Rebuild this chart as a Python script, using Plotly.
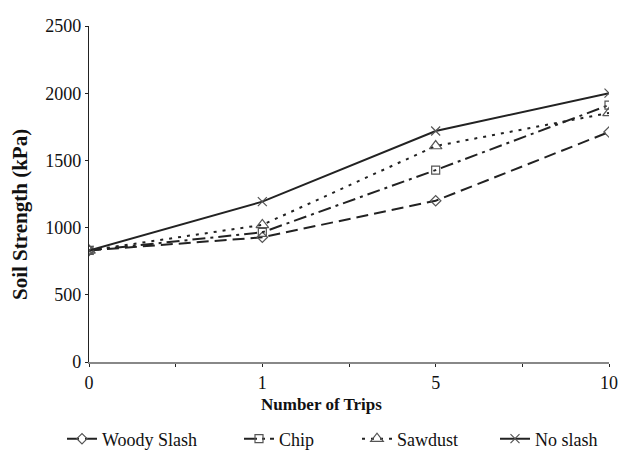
import plotly.graph_objects as go

trips = ["0", "1", "5", "10"]
woody_slash = [830, 928, 1200, 1711]
chip = [830, 965, 1428, 1912]
sawdust = [830, 1020, 1607, 1853]
no_slash = [830, 1193, 1719, 2000]

xpos = list(range(len(trips)))

SERIF = "Liberation Serif, Times New Roman, Times, serif"

series = [
    ("Woody Slash", woody_slash, "12px,6px", "diamond-open", 8, "legend", 62),
    ("Chip", chip, "13px,5px,3px,5px", "square-open", 8, "legend2", 239),
    ("Sawdust", sawdust, "3px,6px", "triangle-up-open", 11, "legend3", 357),
    ("No slash", no_slash, "solid", "x-thin-open", 9, "legend4", 495),
]

W, H = 625, 450
L, R, T, B = 89, 16, 26, 88
PW, PH = W - L - R, H - T - B


def px_x(p):
    return (p - L) / PW


def px_y(p):
    return (H - B - p) / PH


fig = go.Figure()
legends = {}
for name, vals, dash, sym, size, lg, lx in series:
    fig.add_trace(go.Scatter(
        x=xpos, y=vals, name=name, mode="lines+markers", legend=lg,
        line=dict(color="#222222", width=2.0, dash=dash),
        marker=dict(symbol=sym, size=size, color="#555555",
                    line=dict(color="#555555", width=1.2)),
    ))
    legends[lg] = dict(orientation="h", x=lx / W, xanchor="left",
                       y=1 - 439 / H, yanchor="middle",
                       xref="container", yref="container",
                       font=dict(size=18, family=SERIF), bgcolor="rgba(0,0,0,0)")

fig.update_layout(
    width=W, height=H,
    margin=dict(l=L, r=R, t=T, b=B),
    paper_bgcolor="white", plot_bgcolor="white",
    font=dict(family=SERIF, color="#111111", size=18),
    showlegend=True,
    **legends,
    annotations=[
        dict(text="<b>Number of Trips</b>", xref="paper", yref="paper",
             x=px_x(321), y=px_y(404), xanchor="center", yanchor="middle",
             showarrow=False, font=dict(size=17, family=SERIF)),
        dict(text="<b>Soil Strength (kPa)</b>", xref="paper", yref="paper",
             x=px_x(20), y=px_y(215), xanchor="center", yanchor="middle", textangle=-90,
             showarrow=False, font=dict(size=21, family=SERIF)),
    ],
)
fig.update_xaxes(
    range=[0, 3], tickvals=xpos, ticktext=trips,
    showgrid=False, zeroline=False, automargin=False,
    showline=True, linecolor="#888888", linewidth=2,
    ticks="outside", ticklen=3, tickcolor="#222222",
    minor=dict(tickvals=[0.5, 1.5, 2.5], ticks="outside", ticklen=3, tickcolor="#222222"),
    tickfont=dict(size=18),
)
fig.update_yaxes(
    range=[0, 2500], tickvals=[0, 500, 1000, 1500, 2000, 2500],
    showgrid=False, zeroline=False, automargin=False,
    showline=True, linecolor="#222222", linewidth=1.3,
    ticks="outside", ticklen=3, tickcolor="#222222",
    tickfont=dict(size=18),
)

fig.write_html("out.html", config={"displayModeBar": False},
               post_script="document.body.style.margin='0';")
